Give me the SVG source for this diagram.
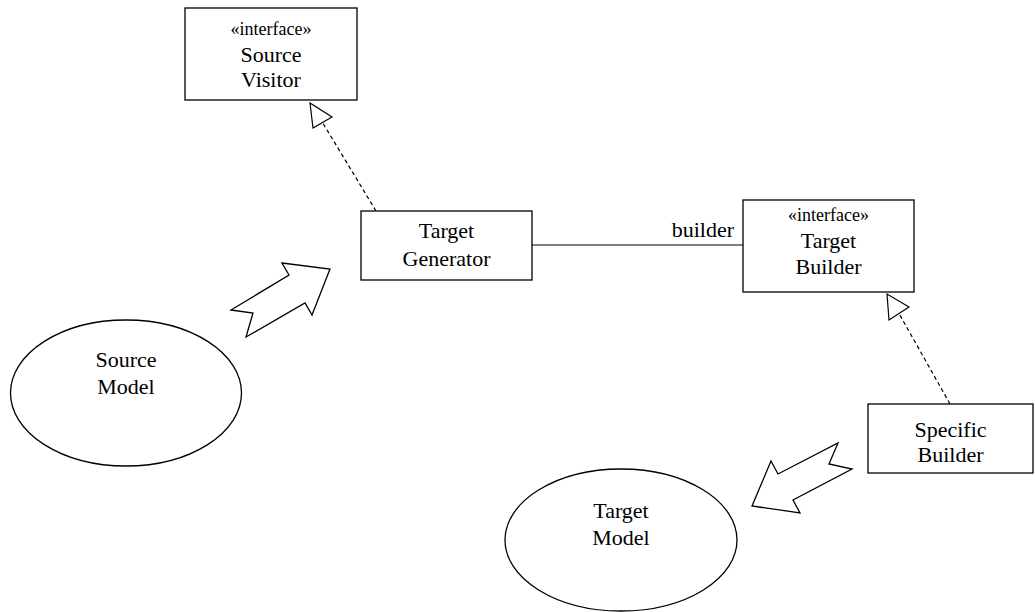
<svg xmlns="http://www.w3.org/2000/svg" width="1035" height="612" viewBox="0 0 1035 612">
<style>
.box{fill:#fff;stroke:#000;stroke-width:1.3}
.shape{fill:#fff;stroke:#000;stroke-width:1.3}
.ln{fill:none;stroke:#000;stroke-width:1.2}
.dash{fill:none;stroke:#000;stroke-width:1.2;stroke-dasharray:4,3}
.head{fill:#fff;stroke:#000;stroke-width:1.2}
text{font-family:"Liberation Serif","Times New Roman",serif;fill:#000;text-anchor:middle}
.t{font-size:22px}
.s{font-size:18px}
</style>
<rect width="1035" height="612" fill="#fff"/>
<g id="connectors">
<line class="ln" x1="532" y1="245" x2="743" y2="245"/>
<text class="t" x="734" y="237" style="text-anchor:end">builder</text>
<line class="dash" x1="376" y1="211" x2="322.5" y2="122.5"/>
<polygon class="head" points="310,103 313,128 332,117"/>
<line class="dash" x1="950" y1="404" x2="899" y2="313.5"/>
<polygon class="head" points="887,294 889,320 909,307"/>
<polygon id="flow1" class="shape" points="282,263 330,269 312,315 305,303 246,337 253,313 231,310 289,275"/>
<polygon id="flow2" class="shape" points="838,443 829,464 852,469 793,500 800,513 752,506 771,461 778,474"/>
</g>
<g id="source-visitor">
<rect class="box" x="185" y="8" width="172" height="92"/>
<text class="s" x="271" y="35">«interface»</text>
<text class="t" x="271" y="62">Source</text>
<text class="t" x="271" y="87">Visitor</text>
</g>
<g id="target-generator">
<rect class="box" x="361" y="211" width="171" height="69"/>
<text class="t" x="446.5" y="238">Target</text>
<text class="t" x="446.5" y="265.5">Generator</text>
</g>
<g id="target-builder">
<rect class="box" x="743" y="200" width="171" height="92"/>
<text class="s" x="828.5" y="220.5">«interface»</text>
<text class="t" x="828.5" y="248">Target</text>
<text class="t" x="828.5" y="274">Builder</text>
</g>
<g id="specific-builder">
<rect class="box" x="868" y="404" width="165" height="69"/>
<text class="t" x="950.5" y="436.5">Specific</text>
<text class="t" x="950.5" y="462">Builder</text>
</g>
<g id="source-model">
<ellipse class="shape" cx="126" cy="393" rx="115.5" ry="73"/>
<text class="t" x="126" y="367">Source</text>
<text class="t" x="126" y="394">Model</text>
</g>
<g id="target-model">
<ellipse class="shape" cx="621" cy="540" rx="116" ry="71"/>
<text class="t" x="621" y="518">Target</text>
<text class="t" x="621" y="545">Model</text>
</g>
</svg>
